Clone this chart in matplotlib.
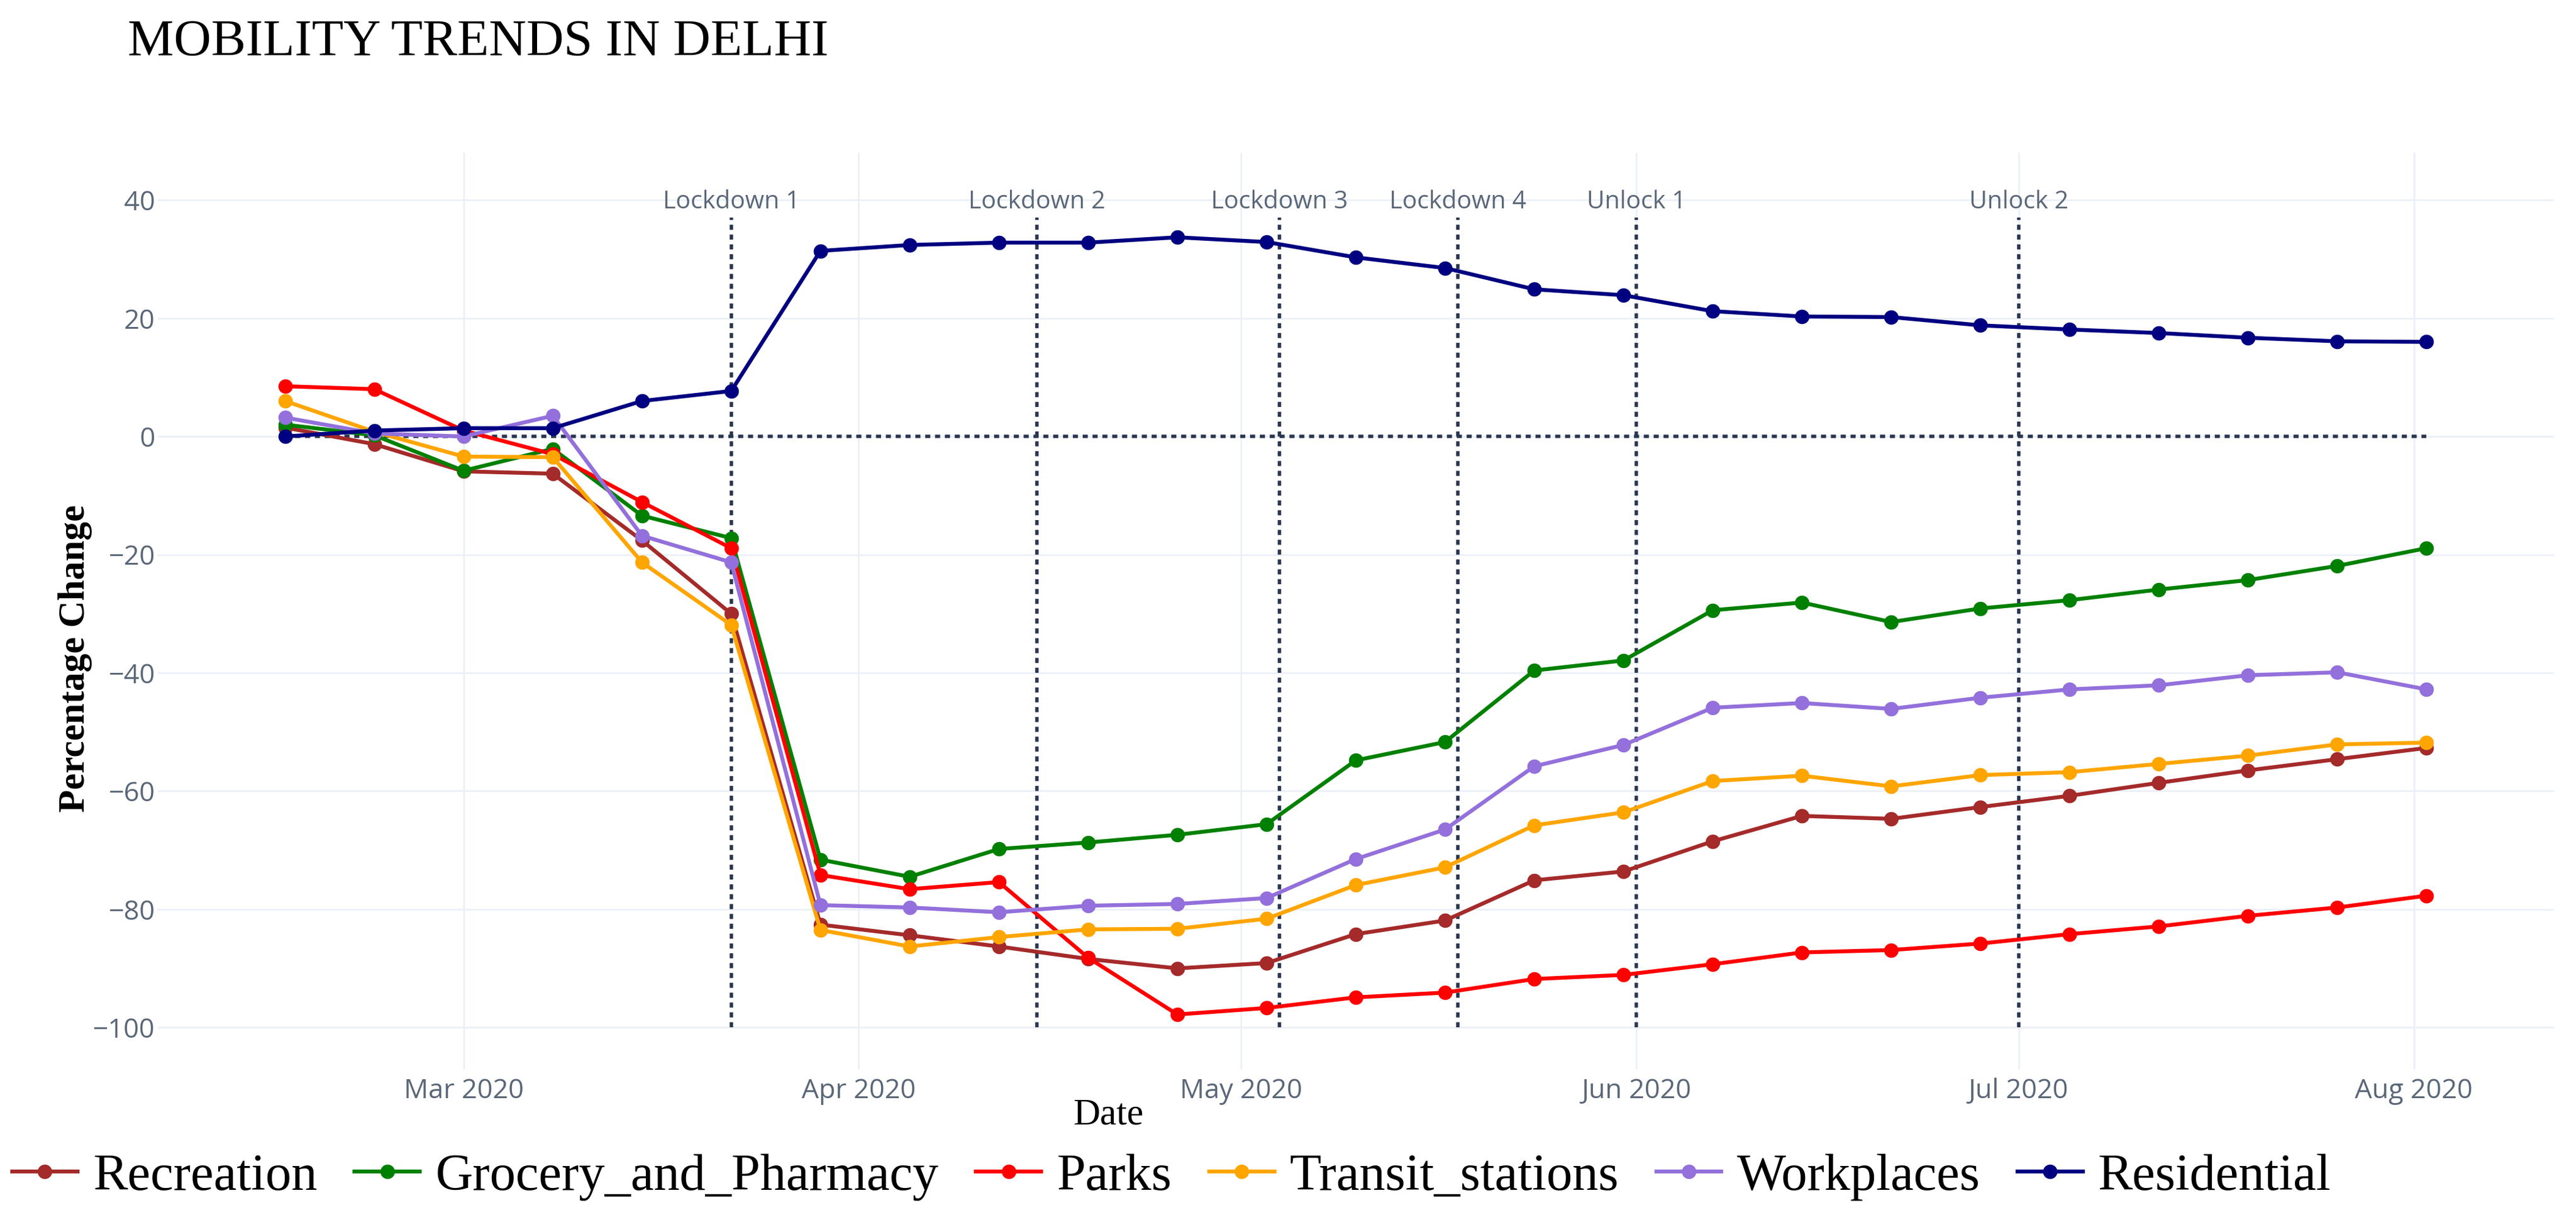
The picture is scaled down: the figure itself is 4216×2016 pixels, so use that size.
import datetime as dt
import matplotlib
matplotlib.use("Agg")
import matplotlib.pyplot as plt
import matplotlib.dates as mdates

# weekly points, Feb 16 .. Aug 2 2020
start = dt.date(2020, 2, 16)
dates = [start + dt.timedelta(days=7 * i) for i in range(25)]

recreation = [1.5, -1.3, -5.9, -6.3, -17.6, -30.0, -82.6, -84.4, -86.3, -88.4, -90.0, -89.1, -84.2,
              -81.9, -75.1, -73.6, -68.5, -64.2, -64.7, -62.7, -60.8, -58.6, -56.5, -54.6, -52.7]
grocery = [2.0, 0.2, -5.8, -2.1, -13.4, -17.2, -71.6, -74.5, -69.8, -68.7, -67.4, -65.6, -54.8,
           -51.7, -39.6, -37.9, -29.4, -28.1, -31.4, -29.1, -27.7, -25.9, -24.3, -21.9, -18.9]
parks = [8.5, 8.0, 1.0, -3.0, -11.1, -18.9, -74.2, -76.6, -75.4, -88.2, -97.8, -96.7, -94.9,
         -94.1, -91.8, -91.1, -89.3, -87.3, -86.9, -85.8, -84.2, -82.9, -81.1, -79.7, -77.7]
transit = [6.0, 0.8, -3.4, -3.5, -21.3, -31.9, -83.5, -86.3, -84.7, -83.4, -83.3, -81.6, -75.9,
           -72.9, -65.8, -63.6, -58.3, -57.4, -59.2, -57.3, -56.8, -55.4, -54.0, -52.1, -51.8]
workplaces = [3.2, 0.5, 0.0, 3.5, -16.8, -21.3, -79.3, -79.7, -80.5, -79.4, -79.1, -78.1, -71.5,
              -66.5, -55.8, -52.2, -45.9, -45.1, -46.1, -44.2, -42.8, -42.1, -40.4, -39.9, -42.8]
residential = [0.0, 1.0, 1.4, 1.4, 6.0, 7.7, 31.4, 32.4, 32.8, 32.8, 33.7, 32.9, 30.3,
               28.5, 24.9, 23.9, 21.2, 20.3, 20.2, 18.8, 18.1, 17.5, 16.7, 16.1, 16.0]

series_names = ["Recreation", "Grocery_and_Pharmacy", "Parks", "Transit_stations", "Workplaces", "Residential"]
series_values = [recreation, grocery, parks, transit, workplaces, residential]
series_colors = ["brown", "green", "red", "orange", "mediumpurple", "navy"]

event_labels = ["Lockdown 1", "Lockdown 2", "Lockdown 3", "Lockdown 4", "Unlock 1", "Unlock 2"]
event_dates = [dt.date(2020, 3, 22), dt.date(2020, 4, 15), dt.date(2020, 5, 4),
               dt.date(2020, 5, 18), dt.date(2020, 6, 1), dt.date(2020, 7, 1)]

tick_dates = [dt.date(2020, m, 1) for m in range(3, 9)]

W, H = 4216, 2016
fig = plt.figure(figsize=(W / 200, H / 200), dpi=200)
ax = fig.add_axes([258 / W, 1 - 1750 / H, (4180 - 258) / W, 1500 / H])

tick_color = "#5a6778"
shape_color = "#2a3650"
dot_style = (0, (1.5, 1.4))

# the plotted series
for name, vals, col in zip(series_names, series_values, series_colors):
    ax.plot(dates, vals, color=col, lw=2.3, marker="o", markersize=7.5, label=name,
            solid_joinstyle="round", zorder=3)

# event markers
for lab, d in zip(event_labels, event_dates):
    ax.plot([d, d], [-100, 37], color=shape_color, lw=2.0, linestyle=dot_style, zorder=2)
    ax.text(d, 37.6, lab, ha="center", va="bottom", fontsize=14.5, color=tick_color,
            family="Open Sans")

# zero reference
ax.plot([dates[0], dates[-1]], [0, 0], color=shape_color, lw=2.0, linestyle=dot_style, zorder=2)

ax.set_xlim(dt.date(2020, 2, 6), dt.date(2020, 8, 12) + dt.timedelta(hours=22))
ax.set_ylim(-107.1, 48.0)
ax.set_yticks([40, 20, 0, -20, -40, -60, -80, -100])
ax.set_xticks(tick_dates)
ax.xaxis.set_major_formatter(mdates.DateFormatter("%b %Y"))
ax.grid(True, color="#ebf0f8", lw=1.0, zorder=0)
for s in ax.spines.values():
    s.set_visible(False)
ax.tick_params(length=0, labelsize=16, labelcolor=tick_color)
ax.tick_params(axis="x", pad=4.7)
ax.tick_params(axis="y", pad=1.5)
for t in ax.get_xticklabels() + ax.get_yticklabels():
    t.set_family("Open Sans")

serif = "Liberation Serif"
fig.text(209 / W, 1 - 91 / H, "MOBILITY TRENDS IN DELHI", family=serif, fontsize=30.5,
         ha="left", va="baseline", color="black")
fig.text(123 / W, 1 - 1077 / H, "Percentage Change", family=serif, fontsize=22,
         fontweight="bold", rotation=90, ha="center", va="center")
fig.text(1814 / W, 1 - 1840 / H, "Date", family=serif, fontsize=22,
         ha="center", va="baseline")

leg = fig.legend(loc="center left", bbox_to_anchor=(20 / W, 1 - 1926 / H), ncol=6,
                 frameon=False, borderpad=0, borderaxespad=0, handlelength=1.26,
                 handletextpad=0.3, columnspacing=0.72, prop={"family": serif, "size": 30.5})

fig.savefig("out.png", dpi=200)
